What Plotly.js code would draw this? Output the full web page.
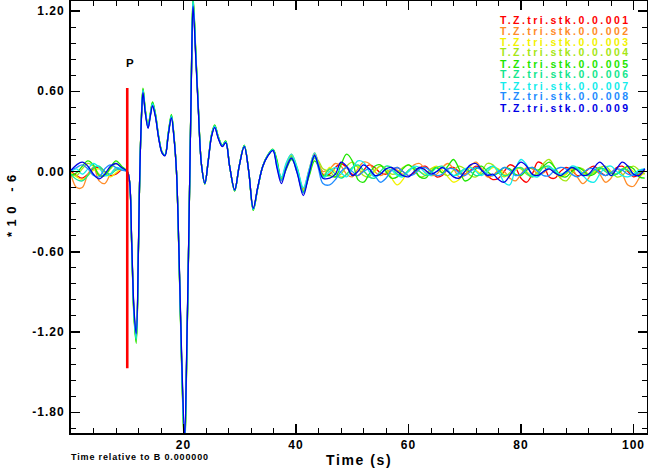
<!DOCTYPE html>
<html><head><meta charset="utf-8">
<script src="https://cdn.plot.ly/plotly-3.0.1.min.js"></script>
<style>
body{margin:0;padding:0;background:#fff;}
#chart{width:648px;height:468px;}
.xtick text,.ytick text{letter-spacing:1px;}
.annotation-text{letter-spacing:0px;}
.annotation-text[style*="font-size: 10.5px"]{letter-spacing:2.45px;}
.annotation-text[style*="font-size: 14px"]{letter-spacing:1.6px;}
.annotation-text[style*="font-size: 9px"]{letter-spacing:0.85px;}
.annotation-text[style*="font-size: 13px"]{letter-spacing:5.5px;}
</style></head><body><div id="chart"></div><script>
// ---- data ----
const names = ['T.Z.tri.stk.0.0.001','T.Z.tri.stk.0.0.002','T.Z.tri.stk.0.0.003','T.Z.tri.stk.0.0.004','T.Z.tri.stk.0.0.005','T.Z.tri.stk.0.0.006','T.Z.tri.stk.0.0.007','T.Z.tri.stk.0.0.008','T.Z.tri.stk.0.0.009'];
const colors = ['#ff0000','#ff8c28','#f2f200','#a6e614','#1ee600','#14e68c','#14ecec','#1e8cff','#0000e6'];

const preT = [0,1,2,3,4,5,6,7,8,9];
const pre001 = [0.00,-0.03,-0.05,-0.02,0.02,0.03,0.00,-0.03,-0.02,0.01];
const pre002 = [-0.02,-0.12,-0.12,-0.02,0.03,-0.07,-0.09,-0.02,0.02,0.01];
const pre003 = [-0.01,-0.04,-0.06,-0.03,0.01,0.02,-0.01,-0.04,-0.01,0.02];
const pre004 = [-0.02,-0.03,0.02,0.06,0.04,-0.02,-0.03,0.02,0.06,0.03];
const pre005 = [-0.03,-0.01,0.04,0.08,0.05,-0.03,-0.03,0.03,0.08,0.04];
const pre006 = [-0.02,-0.06,-0.07,-0.03,0.03,0.04,0.00,-0.02,0.01,0.02];
const pre007 = [0.00,0.02,-0.02,0.02,0.06,0.03,-0.03,-0.02,0.03,0.02];
const pre008 = [0.01,0.03,0.05,0.02,-0.03,-0.04,0.02,0.05,0.03,0.01];
const pre009 = [0.01,0.05,0.07,0.04,-0.02,-0.055,-0.02,0.04,0.06,0.03];

// shared main arrival (all stations nearly identical here)
const sigT = [10.0,10.4,10.8,11.2,11.6,12.0,12.2,12.5,12.8,13.2,13.7,14.1,14.5,15.0,15.6,16.2,16.7,17.3,17.85,18.3,18.75,19.2,19.7,20.2,20.6,21.1,21.4,21.7,22.2,22.6,23.2,23.8,24.4,25.0,25.55,26.2,26.9,27.5,28.2,29.1,29.9,30.8,31.6,32.4,33.2,34.1,35.0,35.9];
const sigV = [0.00,-0.07,-0.55,-1.05,-1.235,-0.55,-0.07,0.38,0.60,0.45,0.33,0.42,0.50,0.42,0.25,0.14,0.12,0.28,0.41,0.26,0.00,-0.62,-1.45,-2.02,-1.30,-0.07,0.70,1.26,0.85,0.50,0.05,-0.09,0.08,0.27,0.335,0.25,0.19,0.22,0.04,-0.14,0.04,0.19,0.00,-0.28,-0.12,0.04,0.12,0.16];
const sigGain = [1.01,1.00,1.02,1.03,1.04,1.02,1.01,0.99,0.98];

// coda, where the stations start to differ
const tailT = [36.6,37.4,38.3,39.2,40.2,41.3,42.3,43.3,44.0,44.8];
const tail001 = [0.06,-0.06,0.05,0.11,0.01,-0.15,0.00,0.13,0.06,-0.02];
const tail002 = [0.07,-0.05,0.06,0.13,0.02,-0.13,0.01,0.14,0.07,0.00];
const tail003 = [0.06,-0.07,0.03,0.10,0.00,-0.16,-0.01,0.12,0.05,-0.03];
const tail004 = [0.08,-0.05,0.04,0.12,0.03,-0.14,-0.03,0.10,0.08,0.02];
const tail005 = [0.09,-0.06,0.02,0.09,0.02,-0.15,-0.04,0.08,0.04,-0.03];
const tail006 = [0.07,-0.06,0.04,0.11,0.00,-0.16,-0.02,0.11,0.05,-0.04];
const tail007 = [0.06,-0.04,0.07,0.13,0.03,-0.12,0.01,0.14,0.05,-0.05];
const tail008 = [0.04,-0.07,0.03,0.10,-0.01,-0.16,-0.01,0.12,0.02,-0.09];
const tail009 = [0.03,-0.09,0.03,0.10,-0.01,-0.18,-0.02,0.12,0.04,-0.05];

const postT = [46,47,48,49,50,51,52,53,54,55,56,57,58,59,60,61,62,63,64,65,66,67,68,69,70,71,72,73,74,75,76,77,78,79,80,81,82,83,84,85,86,87,88,89,90,91,92,93,94,95,96,97,98,99,100,101,102];
const post001 = [-0.02,0.03,0.06,0.03,-0.02,-0.03,0.01,0.05,0.03,-0.01,-0.02,0.01,0.03,0.00,-0.03,-0.01,0.03,0.04,0.00,-0.04,-0.03,0.02,0.03,0.00,-0.02,0.01,0.04,0.02,-0.03,-0.06,-0.05,0.00,0.05,0.03,-0.05,-0.08,-0.02,0.07,0.05,-0.04,-0.05,0.00,0.03,0.01,-0.03,-0.02,0.02,0.04,0.00,-0.03,-0.01,0.03,0.04,0.00,-0.04,-0.02,0.02];
const post002 = [0.02,0.06,0.04,-0.02,-0.04,0.02,0.07,0.06,0.00,-0.03,-0.01,0.02,0.01,-0.02,0.00,0.05,0.06,0.01,-0.03,-0.02,0.03,0.06,0.02,-0.04,-0.03,0.04,0.07,0.02,-0.04,-0.03,0.01,0.00,-0.05,-0.07,-0.02,0.03,0.02,-0.02,-0.01,0.02,0.00,-0.04,-0.02,0.02,-0.04,-0.09,-0.05,0.01,-0.02,-0.08,-0.05,0.02,-0.02,-0.10,-0.11,-0.05,0.01];
const post003 = [0.03,0.00,-0.04,-0.02,0.03,0.04,0.00,-0.03,0.00,0.04,0.02,-0.05,-0.10,-0.06,0.01,0.03,0.00,-0.02,0.02,0.04,0.01,-0.04,-0.08,-0.06,0.00,0.03,0.01,-0.02,0.00,0.03,0.02,-0.02,-0.03,0.01,0.03,0.00,-0.03,-0.01,0.03,0.03,-0.01,-0.04,-0.02,0.02,0.02,-0.01,-0.03,0.00,0.03,0.01,-0.03,-0.02,0.02,0.03,0.00,-0.03,-0.01];
const post004 = [0.00,-0.04,-0.02,0.04,0.07,0.03,-0.03,-0.04,0.01,0.04,0.02,-0.02,-0.01,0.03,0.05,0.01,-0.04,-0.03,0.02,0.03,-0.01,-0.03,0.01,0.04,0.02,-0.03,-0.04,0.00,0.06,0.05,-0.01,-0.04,-0.01,0.03,0.02,-0.02,-0.04,0.00,0.06,0.09,0.03,-0.05,-0.07,-0.02,0.03,0.02,-0.02,-0.01,0.03,0.04,0.00,-0.04,-0.03,0.02,0.04,0.01,-0.02];
const post005 = [-0.03,-0.04,0.05,0.13,0.08,-0.06,-0.08,-0.02,0.04,0.05,0.00,-0.05,-0.04,0.02,0.05,0.02,-0.04,-0.05,0.00,0.03,-0.01,0.04,0.09,0.02,-0.07,-0.05,0.02,0.04,0.00,-0.03,-0.01,0.03,0.02,-0.02,-0.03,0.01,0.03,0.01,0.04,0.07,0.03,-0.03,-0.04,0.00,0.03,0.01,-0.03,-0.02,0.02,0.02,-0.01,-0.02,0.01,0.04,0.02,-0.04,-0.05];
const post006 = [0.02,-0.02,-0.05,-0.02,0.03,0.05,0.01,-0.04,-0.05,0.00,0.04,0.03,-0.02,-0.03,0.01,0.03,0.00,-0.03,-0.01,0.03,0.04,0.00,-0.03,-0.01,0.02,0.00,-0.03,-0.02,0.02,0.04,0.01,-0.03,-0.02,0.02,0.03,-0.01,-0.04,-0.02,0.03,0.04,0.00,-0.03,-0.01,0.03,0.02,-0.02,-0.03,0.01,0.03,0.00,-0.03,-0.02,0.02,0.01,-0.02,-0.01,0.02];
const post007 = [0.00,0.03,-0.01,-0.04,0.02,0.08,0.07,0.00,-0.04,-0.02,0.02,0.01,-0.03,-0.04,0.00,0.04,0.03,-0.01,-0.03,0.00,0.03,0.01,-0.03,-0.02,0.02,0.03,0.00,-0.03,0.00,0.04,0.00,-0.08,-0.10,0.02,0.09,0.05,-0.03,-0.04,0.00,0.03,0.01,-0.02,0.00,0.04,0.03,-0.03,-0.07,-0.08,-0.02,0.03,0.04,0.00,-0.03,-0.04,-0.02,0.01,0.02];
const post008 = [-0.10,-0.06,0.00,0.03,0.00,-0.03,0.00,0.02,-0.03,-0.08,-0.05,0.01,0.03,0.00,-0.03,-0.02,0.02,0.03,0.00,-0.03,-0.02,0.02,0.02,-0.01,-0.03,0.00,0.03,0.01,-0.02,-0.03,0.00,0.03,0.01,-0.03,-0.02,0.02,0.03,0.00,-0.03,-0.03,0.01,0.03,0.02,-0.02,-0.04,-0.01,0.02,0.02,-0.01,-0.03,-0.01,0.02,0.01,-0.02,-0.03,0.00,0.02];
const post009 = [-0.05,-0.02,0.07,0.04,-0.03,0.00,0.05,0.02,-0.03,-0.02,0.02,0.03,0.00,-0.03,-0.04,0.00,0.03,0.01,-0.02,0.00,0.03,0.00,-0.04,-0.05,0.00,0.05,0.06,0.01,-0.03,-0.02,-0.06,-0.08,-0.03,0.03,0.07,0.04,-0.02,-0.03,0.00,0.02,-0.01,-0.03,0.00,0.03,0.01,-0.03,-0.02,0.03,0.07,0.03,-0.03,0.02,0.07,0.04,-0.02,-0.03,0.02];

const preAll = [pre001,pre002,pre003,pre004,pre005,pre006,pre007,pre008,pre009];
const tailAll = [tail001,tail002,tail003,tail004,tail005,tail006,tail007,tail008,tail009];
const postAll = [post001,post002,post003,post004,post005,post006,post007,post008,post009];

const pickT = [10.0, 10.0];
const pickV = [0.625, -1.47];
const pickLabel = 'P';

const xTicks = [20,40,60,80,100];
const yTicks = [-1.8,-1.2,-0.6,0,0.6,1.2];
const yTickText = ['-1.80','-1.20','-0.60','0.00','0.60','1.20'];
const xTitle = 'Time (s)';
const yTitle = '*10 -6';
const note = 'Time relative to B 0.000000';

// ---- build traces ----
const traces = names.map((n, i) => ({
  type: 'scatter', mode: 'lines', name: n,
  x: preT.concat(sigT, tailT, postT),
  y: preAll[i].concat(sigV.map(v => v * sigGain[i]), tailAll[i], postAll[i]),
  line: {color: colors[i], width: 1.3, shape: 'spline', smoothing: 1},
  hoverinfo: 'skip', showlegend: false
}));
traces.push({type:'scatter', mode:'lines', x: pickT, y: pickV,
  line:{color:'#ff0000', width:2.6}, hoverinfo:'skip', showlegend:false});

const B = {family:'Liberation Sans, Arial, sans-serif', weight:'bold', color:'#000'};
const ann = names.map((n, i) => ({
  text: n, xref:'paper', yref:'paper', x: (632-71)/576, y: (433-19.5-11*i)/432,
  xanchor:'right', yanchor:'middle', showarrow:false, borderpad:0,
  font: Object.assign({}, B, {size:10.5, color: colors[i]})
}));
ann.push({text: xTitle, xref:'paper', yref:'paper', x:0.5, y:(433-460)/432, xanchor:'center', yanchor:'middle', showarrow:false, font:Object.assign({},B,{size:14})});
ann.push({text: note, xref:'paper', yref:'paper', x:-2/576, y:(433-456.5)/432, xanchor:'left', yanchor:'middle', showarrow:false, font:Object.assign({},B,{size:9})});
ann.push({text: yTitle, xref:'paper', yref:'paper', x:(11-71)/576, y:(433-203)/432, xanchor:'center', yanchor:'middle', textangle:-90, showarrow:false, font:Object.assign({},B,{size:13})});
ann.push({text: pickLabel, x: pickT[0]-0.5, y: 0.81, xref:'x', yref:'y', xanchor:'left', yanchor:'middle', showarrow:false, font:Object.assign({},B,{size:11.5})});

const axBase = {showline:true, linewidth:2, linecolor:'#000', mirror:'ticks', ticks:'inside',
  tickcolor:'#000', tickwidth:1.5, ticklen:9, showgrid:false, zeroline:false,
  tickfont:Object.assign({},B,{size:12})};

const layout = {
  width:648, height:468, margin:{l:71, r:1, t:1, b:35},
  paper_bgcolor:'#fff', plot_bgcolor:'#fff', showlegend:false,
  xaxis: Object.assign({}, axBase, {range:[0,102.4], tickmode:'array', tickvals:xTicks,
    minor:{tickmode:'linear', tick0:0, dtick:4, ticks:'inside', ticklen:5, tickwidth:1, tickcolor:'#000'}}),
  yaxis: Object.assign({}, axBase, {range:[-1.955,1.275], tickmode:'array', tickvals:yTicks, ticktext:yTickText,
    ticklabelstandoff:2,
    minor:{tickmode:'linear', tick0:0, dtick:0.12, ticks:'inside', ticklen:5, tickwidth:1, tickcolor:'#000'}}),
  annotations: ann
};
Plotly.newPlot('chart', traces, layout, {staticPlot:true, displayModeBar:false});
</script></body></html>
